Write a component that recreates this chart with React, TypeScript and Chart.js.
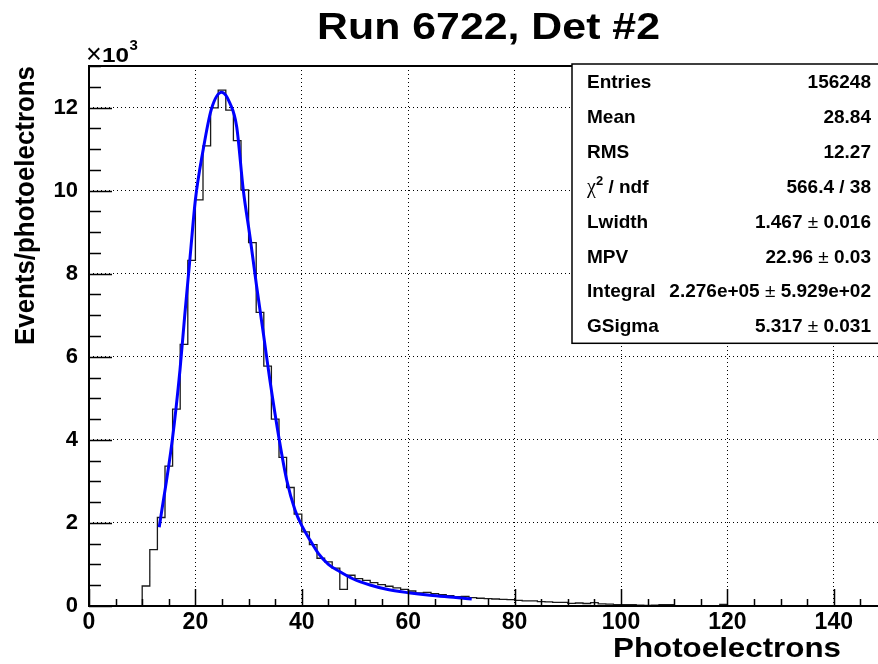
import React, { useEffect, useRef } from 'react';
import { Chart, registerables } from 'chart.js';

Chart.register(...registerables);

// ---------- data ----------
const TITLE = 'Run 6722, Det #2';
const X_TITLE = 'Photoelectrons';
const Y_TITLE = 'Events/photoelectrons';

const X_MIN = 0;
const X_MAX = 150;
const BIN_WIDTH = 10 / 7; // 105 bins over 0..150
const Y_MIN = 0;
const Y_MAX = 13000;

// histogram bin contents (105 bins)
const binCounts = [
  0, 0, 0, 0, 0, 0, 0, 482, 1359, 2130,
  3366, 4740, 6299, 8323, 9776, 11077, 11993, 12419, 11937, 11205,
  10017, 8747, 7070, 5776, 4499, 3576, 2853, 2210, 1783, 1479,
  1150, 1060, 910, 402, 740, 660, 619, 564, 516, 475,
  434, 402, 361, 313, 330, 299, 275, 251, 227, 234,
  202, 186, 178, 169, 161, 154, 137, 121, 121, 105,
  97, 89, 89, 65, 72, 60, 80, 50, 45, 35,
  35, 30, 20, 15, 20, 35, 30, 10, 10, 5,
  8, 5, 3, 40, 5, 3, 2, 0, 3, 0,
  2, 0, 0, 0, 0, 0, 0, 0, 0, 0,
  0, 0, 0, 0, 0,
];

// fit curve points
const fitX = [13.2, 15.66, 17.1, 18.0, 19.0, 20.0, 21.4, 22.97, 24.94, 26.5, 27.76, 29.0, 30.26, 31.52, 32.77, 34.0, 35.77, 37.16, 38.72, 40.1, 41.54, 43.1, 45.0, 47.1, 49.68, 52.82, 55.96, 60.02, 64.1, 68.48, 71.94];
const fitY = [1894, 4000, 5680, 7000, 8400, 9780, 10940, 11945, 12366, 12101, 11538, 10015, 8890, 7687, 6565, 5440, 3996, 3033, 2311, 1909, 1589, 1269, 1004, 830, 650, 505, 402, 320, 258, 209, 168];

const xMajorTicks = [0, 20, 40, 60, 80, 100, 120, 140];
const xMinorStep = 5;
const yMajorTicks = [0, 2000, 4000, 6000, 8000, 10000, 12000];
const yMinorStep = 500;
const Y_EXPONENT = '3';

const statsLabels = ['Entries', 'Mean', 'RMS', 'χ2 / ndf', 'Lwidth', 'MPV', 'Integral', 'GSigma'];
const statsValues = ['156248', '28.84', '12.27', '566.4 / 38', '1.467 ± 0.016', '22.96 ± 0.03', '2.276e+05 ± 5.929e+02', '5.317 ± 0.031'];

// ---------- styles ----------
const FONT = '"Liberation Sans", Arial, Helvetica, sans-serif';
const SERIF = '"Liberation Serif", "Times New Roman", serif';
const CANVAS_W = 900;
const CANVAS_H = 664;

function drawFitted(
  ctx: CanvasRenderingContext2D,
  text: string,
  font: string,
  x: number,
  y: number,
  targetW: number,
  align: CanvasTextAlign,
  rotate = false
) {
  ctx.save();
  ctx.font = font;
  const w = ctx.measureText(text).width;
  const s = targetW / w;
  ctx.translate(x, y);
  if (rotate) ctx.rotate(-Math.PI / 2);
  ctx.scale(s, 1);
  ctx.textAlign = align;
  ctx.textBaseline = 'alphabetic';
  ctx.fillStyle = '#000';
  ctx.fillText(text, 0, 0);
  ctx.restore();
}

type Seg = { t: string; font: string; dy?: number };

function drawSegs(ctx: CanvasRenderingContext2D, segs: Seg[], x: number, y: number, align: 'left' | 'right') {
  ctx.save();
  ctx.textAlign = 'left';
  ctx.textBaseline = 'alphabetic';
  ctx.fillStyle = '#000';
  const widths = segs.map((s) => {
    ctx.font = s.font;
    return ctx.measureText(s.t).width;
  });
  const total = widths.reduce((a, b) => a + b, 0);
  let cx = align === 'right' ? x - total : x;
  segs.forEach((s, i) => {
    ctx.font = s.font;
    ctx.fillText(s.t, cx, y + (s.dy || 0));
    cx += widths[i];
  });
  ctx.restore();
}

const BOLD19 = `bold 19px ${FONT}`;
const NORM19 = `19px ${FONT}`;

function labelSegs(label: string): Seg[] {
  if (label.startsWith('χ')) {
    const rest = label.slice(1); // "2 / ndf"
    return [
      { t: 'χ', font: `20px ${SERIF}` },
      { t: rest.charAt(0), font: `bold 13px ${FONT}`, dy: -8 },
      { t: rest.slice(1), font: BOLD19 },
    ];
  }
  return [{ t: label, font: BOLD19 }];
}

function valueSegs(value: string): Seg[] {
  const parts = value.split(' ± ');
  if (parts.length === 1) return [{ t: value, font: BOLD19 }];
  return [
    { t: parts[0], font: BOLD19 },
    { t: ' ± ', font: NORM19 },
    { t: parts[1], font: BOLD19 },
  ];
}

const decorPlugin = {
  id: 'rootDecor',
  afterDraw(chart: any) {
    const ctx: CanvasRenderingContext2D = chart.ctx;
    const { left, right, top, bottom } = chart.chartArea;
    const xs = chart.scales.x;
    const ys = chart.scales.y;

    ctx.save();
    ctx.strokeStyle = '#000';
    // ticks (inside the frame)
    ctx.lineWidth = 1.5;
    ctx.beginPath();
    for (let v = X_MIN; v <= X_MAX + 1e-9; v += xMinorStep) {
      const px = Math.round(xs.getPixelForValue(v)) + 0.5;
      const len = xMajorTicks.includes(v) ? 17 : 7;
      ctx.moveTo(px, bottom);
      ctx.lineTo(px, bottom - len);
    }
    for (let v = Y_MIN; v <= Y_MAX + 1e-9; v += yMinorStep) {
      const py = Math.round(ys.getPixelForValue(v)) + 0.5;
      const len = yMajorTicks.includes(v) ? 23 : 12;
      ctx.moveTo(left, py);
      ctx.lineTo(left + len, py);
    }
    ctx.stroke();

    // frame
    ctx.lineWidth = 2;
    ctx.strokeRect(left, top, right - left, bottom - top);

    // stats box
    const bx = 572;
    const by = 64;
    const bb = 343.3;
    const rowH = (bb - by) / statsLabels.length;
    ctx.fillStyle = '#fff';
    ctx.fillRect(bx, by, right - bx, bb - by);
    ctx.lineWidth = 1.5;
    ctx.strokeRect(bx, by, right - bx, bb - by);
    statsLabels.forEach((lab, i) => {
      const cy = by + rowH * (i + 0.5) + 6.5;
      drawSegs(ctx, labelSegs(lab), 587, cy, 'left');
      drawSegs(ctx, valueSegs(statsValues[i]), 871, cy, 'right');
    });
    ctx.restore();

    // title
    drawFitted(ctx, TITLE, `bold 36px ${FONT}`, 488.5, 39.3, 343, 'center');
    // x axis title
    drawFitted(ctx, X_TITLE, `bold 28px ${FONT}`, 841, 656.7, 228, 'right');
    // y axis title
    drawFitted(ctx, Y_TITLE, `bold 28px ${FONT}`, 33.5, 66, 279, 'right', true);

    // x10^3
    ctx.save();
    ctx.fillStyle = '#000';
    ctx.textBaseline = 'alphabetic';
    ctx.textAlign = 'left';
    ctx.font = `27px ${FONT}`;
    ctx.fillText('×', 86, 63);
    ctx.restore();
    drawFitted(ctx, '10', `bold 21px ${FONT}`, 102, 61.7, 27, 'left');
    ctx.save();
    ctx.fillStyle = '#000';
    ctx.font = `bold 15px ${FONT}`;
    ctx.textAlign = 'left';
    ctx.fillText(Y_EXPONENT, 129.5, 49.5);
    ctx.restore();
  },
};

export default function App() {
  const canvasRef = useRef<HTMLCanvasElement | null>(null);

  useEffect(() => {
    const canvas = canvasRef.current;
    if (!canvas) return;

    const histPoints = binCounts.map((c, i) => ({ x: X_MIN + i * BIN_WIDTH, y: c }));
    histPoints.push({ x: X_MAX, y: binCounts[binCounts.length - 1] });
    const fitPoints = fitX.map((x, i) => ({ x, y: fitY[i] }));

    const tickFont = { family: FONT, weight: 'bold' as const };

    const chart = new Chart(canvas, {
      type: 'line',
      data: {
        datasets: [
          {
            label: 'fit',
            data: fitPoints,
            borderColor: '#0000ff',
            borderWidth: 3,
            pointRadius: 0,
            cubicInterpolationMode: 'monotone',
            fill: false,
            order: 0,
          },
          {
            label: 'hist',
            data: histPoints,
            borderColor: '#1a1a1a',
            borderWidth: 1.3,
            pointRadius: 0,
            stepped: true,
            fill: false,
            order: 1,
          },
        ],
      },
      options: {
        animation: false,
        responsive: false,
        maintainAspectRatio: false,
        devicePixelRatio: 1,
        layout: { padding: { left: 0, right: 13, top: 66, bottom: 0 } },
        plugins: {
          legend: { display: false },
          title: { display: false },
          tooltip: { enabled: false },
        },
        scales: {
          x: {
            type: 'linear',
            min: X_MIN,
            max: X_MAX,
            afterBuildTicks: (s: any) => {
              s.ticks = xMajorTicks.map((v) => ({ value: v }));
            },
            afterFit: (s: any) => {
              s.height = 58;
            },
            ticks: {
              autoSkip: false,
              maxRotation: 0,
              padding: 3,
              color: '#000',
              font: { ...tickFont, size: 23 },
              callback: (v: any) => String(v),
            },
            grid: { color: '#000', lineWidth: 1, drawTicks: false },
            border: { display: false, dash: [1, 3] },
          },
          y: {
            type: 'linear',
            min: Y_MIN,
            max: Y_MAX,
            afterBuildTicks: (s: any) => {
              s.ticks = yMajorTicks.map((v) => ({ value: v }));
            },
            afterFit: (s: any) => {
              s.width = 89;
            },
            ticks: {
              autoSkip: false,
              padding: 11,
              color: '#000',
              font: { ...tickFont, size: 22 },
              callback: (v: any) => String(Number(v) / 1000),
            },
            grid: { color: '#000', lineWidth: 1, drawTicks: false },
            border: { display: false, dash: [1, 3] },
          },
        },
      },
      plugins: [decorPlugin],
    } as any);

    return () => chart.destroy();
  }, []);

  return (
    <div
      style={{
        position: 'absolute',
        left: 0,
        top: 0,
        width: 878,
        height: 664,
        overflow: 'hidden',
        background: '#fff',
      }}
    >
      <canvas
        ref={canvasRef}
        width={CANVAS_W}
        height={CANVAS_H}
        style={{ display: 'block', width: CANVAS_W, height: CANVAS_H }}
      />
    </div>
  );
}
